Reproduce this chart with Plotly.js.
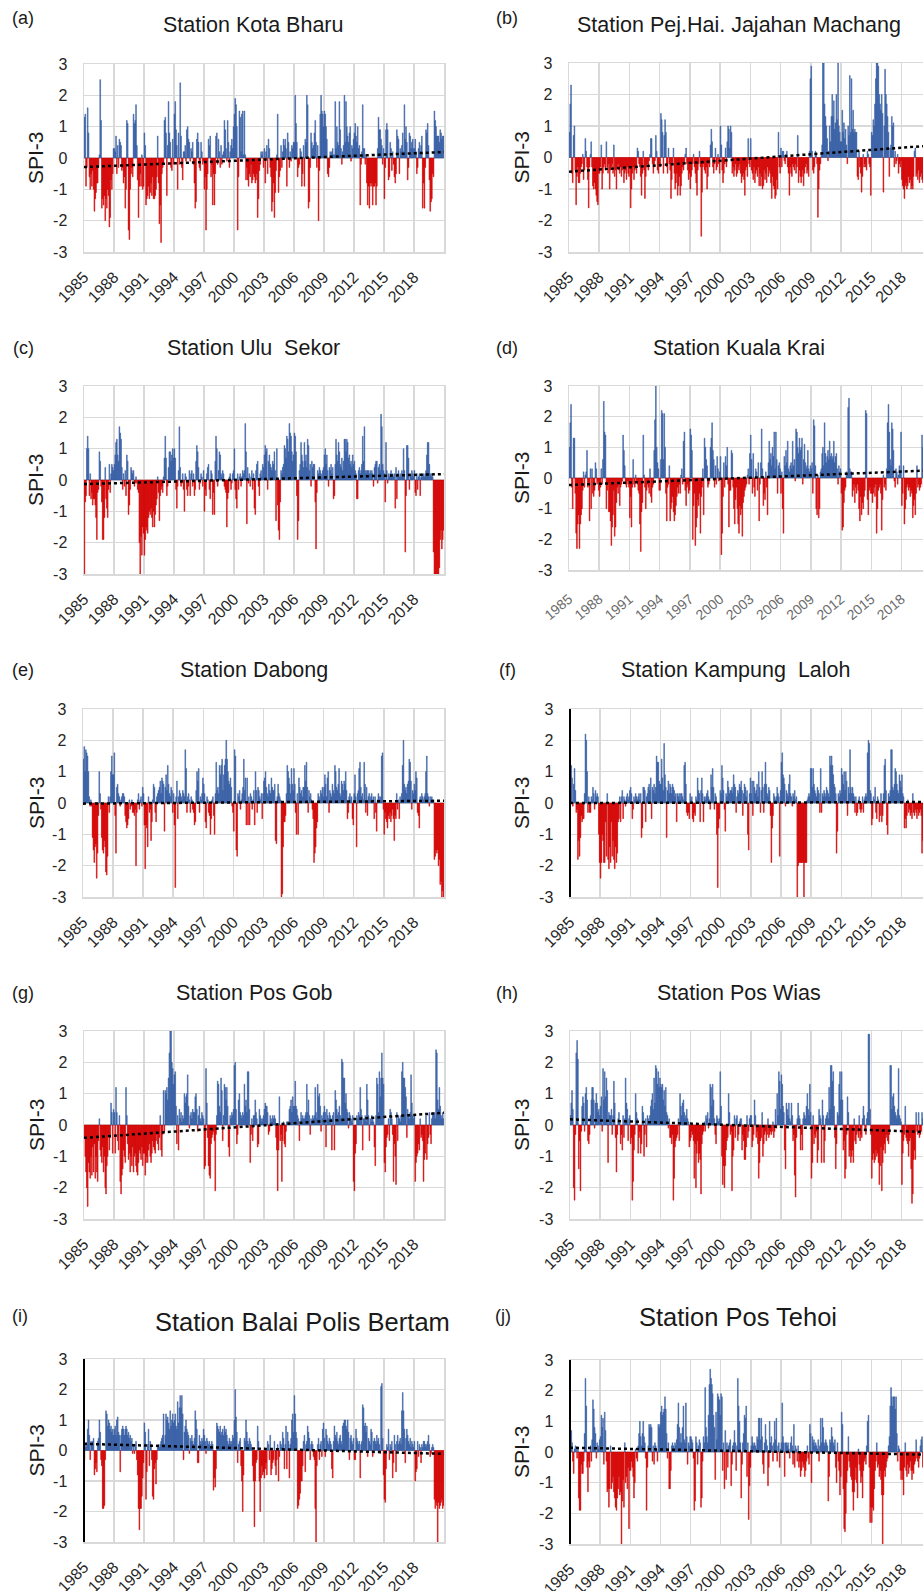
<!DOCTYPE html>
<html><head><meta charset="utf-8">
<script src="https://cdn.plot.ly/plotly-3.0.1.min.js"></script>
<style>html,body{margin:0;padding:0;background:#fff;}#chart{width:923px;height:1591px;}</style>
</head><body><div id="chart"></div>
<script>
// ---------------- DATA (monthly SPI-3, Jan 1985 - Dec 2020, one row per year) ----------------
const startYear = 1985;
const endYear = 2020;
const tickYears = [1985, 1988, 1991, 1994, 1997, 2000, 2003, 2006, 2009, 2012, 2015, 2018];
const yTickValues = [-3, -2, -1, 0, 1, 2, 3];
const yTickLabels = ['-3', '-2', '-1', '0', '1', '2', '3'];
const panelLetters = ['(a)', '(b)', '(c)', '(d)', '(e)', '(f)', '(g)', '(h)', '(i)', '(j)'];
const stationNames = ['Station Kota Bharu', 'Station Pej.Hai. Jajahan Machang', 'Station Ulu\u00a0 Sekor', 'Station Kuala Krai',
  'Station Dabong', 'Station Kampung\u00a0 Laloh', 'Station Pos Gob', 'Station Pos Wias', 'Station Balai Polis Bertam', 'Station Pos Tehoi'];

const spiKotaBharu = [
1.3,1.4,-0.9,-0.3,1.6,0.8,-0.6,-1.0,-0.5,-0.9,-0.4,-1.0,
-1.7,-1.3,-1.1,-0.8,-0.8,-0.3,0.1,2.5,1.2,-1.6,-1.3,-1.5,
-1.2,-2.0,-1.3,-1.6,-1.0,-1.2,-2.2,-1.9,-0.7,-1.0,-0.5,0.3,
0.3,0.2,0.7,-0.5,0.4,-0.3,0.6,0.5,0.4,-0.4,-0.3,-0.8,
-0.6,-1.6,-1.0,1.2,1.1,-2.3,-2.6,-1.0,-0.5,-0.3,-0.6,1.4,
1.1,1.2,1.7,0.4,-0.7,-1.9,-0.9,-0.5,-0.9,0.1,-1.0,-0.9,
0.8,0.4,-1.5,-1.3,-1.2,-0.9,-1.3,-1.1,-0.8,-1.2,-0.6,-1.3,
-1.3,-1.2,-1.0,-0.6,0.7,-0.8,-2.1,-1.5,-2.7,-0.5,-0.3,-0.2,
1.2,1.3,0.8,-1.2,0.4,1.8,0.8,0.5,-0.3,-0.4,0.6,-0.2,
1.4,1.8,0.9,0.4,-1.0,0.8,-0.2,2.4,0.7,-0.3,-0.7,0.2,
0.2,0.4,-0.1,0.9,1.0,0.6,0.5,-0.1,0.3,0.2,0.5,-0.2,
-0.8,-1.6,-1.4,0.6,0.8,0.5,-0.3,-0.4,0.5,0.2,-0.2,-0.1,
-1.0,-0.6,-2.3,-1.0,-0.5,0.6,0.4,0.7,-0.6,-0.2,-1.5,-0.5,
-1.5,-0.5,0.7,0.8,-0.2,0.6,0.2,-0.3,0.4,-0.2,0.1,0.2,
1.2,0.9,0.3,-0.1,1.2,0.5,-0.3,0.2,0.4,0.6,0.3,1.0,
1.4,1.9,1.7,1.0,-2.3,-0.6,1.5,1.3,0.2,1.4,1.5,0.1,
1.5,0.1,-0.7,-0.3,-0.7,-0.9,-0.5,-0.6,-0.2,-0.8,-0.7,-0.5,
-0.6,-0.8,-0.7,-0.5,-1.9,-1.3,-0.4,-0.2,0.2,0.1,0.2,-0.3,
0.3,-0.8,0.2,0.4,-0.5,0.6,0.3,-0.3,-0.6,-1.7,-1.4,-0.8,
-1.9,-1.1,-0.4,0.1,1.4,-1.1,-0.6,-0.4,0.4,-0.3,0.2,0.6,
0.4,0.6,0.3,-0.9,0.8,0.5,-0.3,0.2,-0.1,0.4,0.3,0.5,
0.5,2.0,1.1,0.5,-0.6,-0.3,-0.2,0.3,0.2,-0.9,-0.5,0.4,
-0.9,0.6,0.5,2.0,1.7,-1.6,-1.4,-0.3,0.8,0.5,0.3,0.4,
0.8,1.2,0.5,-0.3,0.4,-2.0,-0.4,1.4,2.0,1.5,1.4,1.0,
1.5,1.4,1.0,0.6,-0.5,-0.6,-0.3,0.2,0.1,0.2,0.3,0.1,
0.1,1.8,0.3,1.0,0.5,0.4,1.8,0.9,0.3,-0.2,0.2,0.4,
2.0,0.5,1.8,1.0,0.7,0.5,0.8,1.0,-0.1,0.4,0.3,0.6,
0.8,1.1,0.7,0.5,1.0,0.3,0.4,-1.5,-0.2,0.2,1.7,0.3,
0.3,-0.2,0.1,-0.8,-1.5,-0.9,-1.6,-0.8,-0.9,-0.8,-1.5,-0.9,
-0.9,-0.8,-1.5,-0.9,0.3,1.3,0.9,0.9,0.6,0.4,-0.2,0.3,
-1.3,-0.3,0.9,1.1,0.9,-0.7,-0.6,0.5,0.3,-0.4,0.2,-0.2,
-0.6,-0.8,-0.5,0.9,0.7,0.6,-0.5,0.3,0.2,0.4,0.8,0.2,
1.7,0.6,1.0,0.5,-0.7,-0.3,0.8,0.7,0.3,0.5,0.6,0.3,
0.3,0.6,0.2,-0.5,-0.3,0.3,0.5,0.2,0.4,0.7,-1.6,-0.8,
-1.6,-0.3,0.9,0.8,1.1,0.4,-0.7,-1.7,-1.4,-1.3,-0.5,-0.6,
1.5,1.2,1.0,0.7,0.7,0.7,0.5,0.9,0.8,0.6,0.7,0.7];

const spiMachang = [
0.8,1.7,2.3,-0.5,-0.8,0.7,1.0,-0.4,-1.5,-0.6,-0.3,-0.8,
-0.8,-0.5,-0.3,-0.2,0.1,-0.7,-0.4,0.6,0.2,-0.3,-0.7,-1.6,
-0.3,0.1,0.5,-0.3,-0.9,-1.0,-0.8,-1.0,-1.2,-1.4,-1.5,-0.5,
-0.5,-0.3,0.4,-1.0,-0.5,-0.3,-0.2,-0.4,0.5,-0.3,-0.5,-0.2,
-1.0,-0.4,-0.3,-0.2,-0.5,0.4,-0.6,-0.4,-1.0,-0.3,-0.2,-0.4,
-0.5,-0.3,-0.6,-0.4,-0.3,-0.8,-0.5,-0.4,-0.7,-0.3,-0.5,-0.6,
-0.3,-1.6,-1.0,-0.5,-0.3,-0.7,-0.4,-0.3,-0.5,0.3,0.2,-0.2,
-0.3,-0.6,-1.2,-0.5,0.2,-0.4,-1.3,-0.6,-0.3,-0.2,-0.4,-0.1,
0.1,0.6,0.6,-0.2,-0.5,-0.3,-0.1,0.7,0.2,-0.4,-0.5,-0.2,
-0.3,1.4,1.2,0.8,-0.5,0.7,1.2,0.8,-0.3,-0.5,0.3,-0.2,
-0.4,-1.3,-0.7,-0.2,0.3,-0.5,-1.0,-0.8,-0.5,-1.2,-0.9,-0.6,
-1.2,-0.9,-0.5,-0.3,-0.4,-0.2,0.1,0.3,-0.2,-0.4,-0.7,-0.5,
-1.0,-0.6,-0.4,-0.2,0.1,-0.3,-0.5,-0.8,-1.2,-0.4,-0.2,0.2,
-0.3,-2.5,-1.1,-0.3,-0.2,-0.4,-0.5,-0.3,-1.0,-0.6,-0.2,-0.3,
0.4,0.9,0.5,-0.3,-0.5,-0.2,0.3,-0.4,-0.3,0.1,-0.2,-0.5,
1.0,0.4,-0.4,-0.8,-0.5,-0.2,0.3,-0.3,0.5,1.0,0.9,0.3,
1.0,0.8,-0.5,-0.3,-0.6,-0.4,-0.2,-0.6,-0.5,-0.3,-0.4,-0.2,
-0.5,-0.8,-0.6,-0.5,-0.7,-1.2,-0.4,-0.3,-0.6,0.6,-0.2,-0.3,
0.6,-0.4,-0.5,-0.7,-0.3,-0.8,-0.5,-0.4,-0.6,-0.3,-0.9,-0.5,
-0.9,-0.6,-1.0,-0.9,-0.4,-0.7,-0.5,-0.8,-0.3,-0.6,-0.4,-0.5,
-0.8,-1.3,-0.6,-0.9,-1.0,-1.3,-1.2,-0.7,-1.0,0.8,-0.3,-0.5,
0.3,-0.3,0.2,0.2,-0.1,-0.2,0.1,0.2,-0.3,-0.5,-1.2,-0.3,
-0.5,-0.6,-0.2,-0.3,-0.4,-0.2,-0.5,-0.3,0.7,-0.8,-0.4,-0.6,
-0.8,-0.6,-0.4,-0.9,-0.5,-0.3,-0.2,-0.5,-0.4,-0.6,0.2,2.5,
2.9,0.2,-0.4,-0.5,-0.3,0.2,0.1,-0.2,-1.9,-1.0,-0.4,-0.2,
0.1,0.4,3.0,3.0,1.7,1.3,1.0,0.6,-0.1,0.2,1.0,0.5,
1.3,2.0,1.3,1.8,0.9,1.1,2.0,1.2,3.0,1.0,0.8,0.5,
0.5,1.5,0.8,1.1,0.6,0.9,0.4,-0.2,1.0,0.7,2.6,0.8,
2.5,0.9,1.5,0.8,0.9,0.8,0.8,-0.6,-0.7,0.2,-0.3,-0.5,
-1.1,-0.6,0.1,-0.3,-0.2,-0.3,-0.4,0.2,0.1,-0.2,-0.3,-1.2,
0.8,0.7,1.2,1.0,1.7,2.5,3.0,3.0,2.9,2.0,1.7,1.5,
2.0,1.4,-1.1,1.0,2.8,2.0,1.7,1.3,0.8,-0.6,0.3,0.4,
1.3,1.0,1.1,-0.3,0.2,-0.2,-0.1,0.1,-0.5,-0.2,-0.3,-0.1,
-0.7,-0.9,-1.0,-1.3,-0.9,-0.8,-1.0,-0.9,-0.6,-0.8,-0.7,-1.0,
-0.9,-1.0,-0.6,0.2,0.3,-0.6,-0.5,-0.7,-0.4,-0.8,-0.6,-0.5,
-0.7,-0.8,-0.6,-0.5,-0.4,-0.7,-0.6,-0.5,-0.3,-0.4,-0.6,-0.5];

const spiUluSekor = [
-3.0,-0.7,-0.5,1.0,1.4,1.0,-0.5,0.2,-0.6,-0.4,-0.8,-0.6,
-0.6,-0.8,-1.2,-1.9,-0.4,-0.3,0.9,0.6,-0.2,-0.7,-1.9,-1.9,
-1.2,0.4,-0.6,-0.9,-1.2,-0.3,0.5,-0.4,0.2,0.5,0.4,0.3,
0.5,0.8,1.2,1.3,0.8,0.6,1.7,1.5,1.3,0.4,-0.3,0.2,
-0.2,0.3,-0.5,0.8,0.6,-1.1,-0.8,-0.3,0.4,0.3,0.2,0.3,
-0.2,-0.1,0.1,-0.1,-0.3,-0.4,-2.0,-3.0,-1.8,-2.4,-1.5,-1.7,
-2.4,-1.9,-1.5,-1.6,-1.7,-1.2,-1.0,-1.1,-0.9,-1.2,-1.5,-1.0,
-1.5,-1.1,-0.8,-0.6,0.1,-0.4,-1.3,-0.5,-0.3,-0.2,-0.4,0.1,
0.7,1.4,0.7,-0.5,-0.2,0.4,0.9,0.9,0.6,0.8,1.0,0.7,
1.0,0.7,-0.3,-0.9,-0.2,0.3,1.7,0.4,-0.2,-0.1,0.2,-0.3,
-1.0,0.2,0.1,-0.3,-0.5,-0.2,0.3,-0.5,0.2,0.3,-0.2,0.2,
-0.5,-0.3,0.6,1.1,0.9,0.4,-0.3,-0.1,0.2,0.1,-0.2,0.3,
-1.0,-0.3,-0.5,0.2,0.4,0.5,-0.3,-0.6,0.3,0.2,-1.1,-0.4,
-1.1,0.6,1.4,1.0,-0.2,0.3,0.9,0.8,0.2,0.1,0.3,0.2,
-0.2,-0.3,-0.4,-1.5,-0.6,-0.4,0.1,0.2,-0.3,-0.1,0.2,0.3,
1.0,-0.3,-0.6,-0.9,0.2,-0.3,0.1,0.2,-0.2,0.1,0.3,0.2,
0.3,1.8,0.9,-1.4,0.4,-0.1,0.2,-0.2,0.1,0.3,-0.3,0.2,
-0.9,-1.1,0.3,0.5,0.6,-0.2,-0.5,0.2,0.3,0.1,0.5,0.4,
0.8,1.1,0.9,1.0,-0.3,0.6,0.8,0.5,0.4,0.3,0.6,0.5,
0.9,0.3,-1.3,1.0,-0.8,-1.6,-1.9,-0.7,0.3,0.2,0.4,0.5,
1.1,1.0,0.7,1.4,1.3,0.9,1.8,1.5,1.4,0.9,0.6,0.8,
1.5,1.4,0.9,-0.5,-1.9,-1.3,0.3,0.5,1.2,0.8,0.6,0.4,
1.2,0.6,0.8,0.4,1.3,1.1,0.3,0.5,-0.2,0.6,0.4,0.5,
0.5,-0.7,-2.2,-0.4,0.3,0.2,0.4,0.3,0.2,0.1,0.3,0.4,
0.8,1.0,0.5,0.8,0.3,-0.2,0.4,0.3,0.5,0.2,0.4,-0.6,
-0.5,0.5,1.3,0.8,0.6,1.2,0.9,0.5,0.4,0.7,0.3,0.6,
1.3,1.3,0.9,1.3,1.2,0.7,0.8,0.5,0.6,0.4,0.8,0.5,
0.6,0.3,0.2,-0.6,-0.6,0.3,0.4,0.2,0.3,0.5,1.4,0.6,
1.7,0.3,0.2,0.3,0.3,0.3,0.2,0.3,0.2,0.3,0.2,-0.2,
0.4,0.5,0.6,0.6,-0.1,0.4,0.5,0.3,2.1,1.7,0.5,0.3,
0.2,-0.7,1.2,0.3,-0.1,0.2,0.1,0.2,0.3,0.1,0.2,0.1,
0.2,-0.9,0.4,-0.6,0.2,0.3,0.1,0.2,0.1,0.3,0.2,1.0,
0.3,-2.3,-0.5,1.1,1.1,0.7,-0.3,0.2,0.1,0.3,0.2,0.1,
0.3,-0.4,-0.5,0.2,-0.3,0.1,0.2,-0.5,0.1,0.2,0.1,0.2,
0.1,0.2,0.3,0.8,1.2,1.2,0.5,0.2,0.1,0.2,0.1,-2.3,
-3.0,-3.0,-3.0,-3.0,-3.0,-3.0,-2.8,-1.9,-1.6,-2.2,-1.9,-1.6];

const spiKualaKrai = [
1.0,1.8,2.4,-0.3,-1.0,1.3,1.3,-0.5,-1.8,-2.3,-1.5,-1.2,
-2.3,-1.5,-1.2,-1.0,-0.4,0.2,-0.3,0.1,0.2,0.9,-0.3,-0.2,
-1.4,0.3,-1.0,0.3,-0.5,-0.6,-0.4,0.5,0.3,-0.2,-0.1,-0.4,
-0.6,-0.3,0.3,-0.2,0.6,2.5,1.5,1.4,-1.0,-0.4,-0.2,-1.1,
-1.1,-1.4,-2.2,-1.6,-1.2,-0.4,-1.9,-1.6,-0.8,-0.3,-0.5,-0.2,
-0.9,-0.3,-0.2,-0.1,1.4,0.9,0.4,-0.2,-0.3,-0.1,-0.2,-0.3,
-1.3,-0.6,-1.6,-0.3,0.6,-0.2,-0.3,0.1,-0.1,-0.2,-0.4,-0.5,
-1.5,-2.4,-1.1,-0.8,1.4,0.1,-0.3,-1.0,-0.4,-0.2,-0.3,-0.5,
0.3,-0.6,-0.8,-0.3,-0.2,0.9,1.9,3.0,1.0,0.5,0.3,-0.4,
-0.4,0.6,2.2,2.1,0.6,2.1,1.0,-0.5,-1.4,-0.3,-0.2,0.4,
-1.4,-1.0,-0.8,-0.6,-1.1,-1.4,-1.2,-0.9,-0.6,-0.3,-0.5,-0.2,
-0.5,0.1,0.3,-0.2,1.2,1.5,-0.4,-0.9,-0.3,-0.2,-0.5,-0.4,
1.6,1.4,0.9,-2.0,-0.9,-0.5,-2.2,-1.6,-1.3,-0.7,-0.9,-0.5,
-1.8,-0.6,-0.3,0.3,-1.2,1.3,1.0,0.6,0.4,-0.3,-0.2,-0.1,
1.0,1.3,1.8,0.9,0.6,-0.3,0.4,-0.2,0.7,0.3,-0.1,0.2,
0.7,-2.5,-1.8,-0.6,0.5,-0.3,0.7,0.4,1.0,-0.2,-1.6,-0.4,
-0.4,0.9,0.8,-0.3,-1.0,-1.5,-0.7,-0.3,-1.0,-1.5,-1.8,-0.9,
-1.2,-1.0,-1.9,-0.8,-0.6,-0.4,-0.3,-0.2,0.1,0.3,-0.2,0.8,
1.4,0.6,-0.5,0.8,-0.3,-0.6,0.3,0.2,-0.4,0.5,-1.4,-0.2,
0.5,1.6,0.3,-0.9,-0.5,-0.7,0.2,-0.3,-1.2,0.5,1.2,0.6,
0.8,0.4,1.0,0.7,1.5,0.3,1.5,0.6,-0.5,0.4,0.5,0.3,
-0.5,0.2,-1.0,-1.8,0.7,0.4,0.9,0.5,1.2,0.3,0.2,0.4,
0.5,0.3,1.2,0.4,0.6,-0.1,1.6,1.5,1.0,0.8,1.3,0.9,
1.0,1.3,-0.2,0.6,1.1,0.5,0.3,0.4,0.9,0.3,0.2,0.4,
0.3,0.5,-0.5,1.9,1.7,0.4,-1.0,-1.2,0.1,-1.3,-1.0,0.2,
0.3,0.8,1.0,0.4,1.8,0.8,0.5,0.7,0.9,0.6,1.2,0.7,
0.8,0.6,0.7,1.2,0.5,0.7,0.8,0.3,-0.2,0.4,0.2,0.3,
-0.5,-1.7,-1.6,-0.8,-0.4,-0.3,0.2,0.1,2.3,2.6,0.3,0.2,
0.2,-0.6,-0.4,-0.2,-0.8,-0.3,-0.5,-0.2,-0.4,-1.0,-1.4,-0.6,
-1.2,-0.8,-1.0,-0.6,-0.4,2.2,2.1,-0.7,-1.2,-0.4,-0.3,-0.5,
-0.5,-0.8,-0.5,-0.3,-0.6,-0.2,-1.8,-1.0,-0.4,-0.3,-0.2,-0.5,
-1.7,-0.7,0.1,-0.3,-0.2,-0.4,0.3,1.8,2.4,1.5,0.6,0.4,
1.8,1.6,0.9,-0.1,-0.3,0.3,0.2,-0.2,0.1,0.4,0.2,1.5,
-0.9,-0.5,0.4,-1.5,-1.0,-0.7,-0.3,-0.2,-0.4,-0.3,-0.6,-0.4,
-0.5,-1.3,-0.9,-0.7,-1.2,-0.5,0.4,-0.3,-0.2,-0.4,-0.3,-0.2,
1.4,1.0,-0.3,0.5,0.3,-0.2,0.4,0.3,-0.2,0.2,0.1,0.3];

const spiDabong = [
1.4,1.8,1.0,1.7,1.6,1.5,1.0,0.2,-0.1,0.1,-0.1,-1.1,
-1.5,-1.9,-1.4,-1.3,-2.4,-1.6,-0.4,1.0,0.3,-0.2,-1.1,-1.5,
-1.6,-1.2,-1.4,-2.2,-2.3,-1.7,0.2,-0.3,0.2,1.0,1.5,0.9,
0.9,1.6,-0.4,-1.6,0.5,0.6,0.3,0.2,-0.1,0.1,0.2,0.3,
0.3,0.2,-0.4,-0.6,-0.8,-0.7,-0.5,0.1,-0.2,-0.1,0.1,-0.3,
-0.3,-0.4,-0.2,-2.0,-0.3,0.1,0.3,-0.2,0.1,0.2,-0.1,0.5,
0.3,-0.7,-2.1,-0.7,-0.8,-1.4,0.2,-0.3,-0.2,-1.2,-0.6,0.1,
0.6,0.5,-0.3,-0.6,0.2,0.3,0.4,0.5,0.7,0.3,0.8,0.7,
0.6,-0.9,0.5,0.9,0.4,1.2,0.6,0.3,0.2,0.5,0.4,-0.3,
0.3,-0.7,-2.7,0.2,0.7,-0.5,0.2,0.4,0.3,0.2,0.1,0.4,
0.3,0.2,1.7,1.1,-0.3,0.2,0.3,0.1,-0.3,0.2,0.1,-0.2,
-0.3,-0.7,-0.6,0.4,1.0,0.7,1.1,-0.3,0.2,0.1,0.3,0.8,
0.6,0.3,-0.6,-0.8,0.2,0.1,-0.3,-0.4,-1.0,-0.5,0.1,0.2,
-0.4,-1.0,0.3,1.3,0.4,0.5,0.3,1.2,0.9,1.2,1.4,0.4,
0.9,1.2,1.4,2.0,1.4,1.0,0.7,0.6,0.8,0.5,-0.1,-0.3,
-0.9,1.7,1.5,-1.5,-1.7,0.3,0.2,0.4,-0.2,0.1,0.3,0.5,
1.4,0.4,0.8,-0.7,0.8,-0.7,0.2,-0.7,0.3,0.2,-0.2,0.1,
0.4,-0.7,1.0,0.4,-0.3,0.5,0.4,0.2,0.1,0.3,-0.5,0.3,
0.7,0.8,1.0,0.5,0.3,0.2,0.6,0.4,0.3,0.8,0.5,0.4,
0.4,0.6,-1.2,-1.3,0.2,0.6,0.3,0.2,0.1,-3.0,-2.9,-1.4,
-0.6,-0.6,-0.4,0.3,1.2,1.0,0.8,0.6,0.3,1.1,0.6,0.4,
1.1,0.6,-0.3,-1.0,0.3,-1.0,0.8,0.5,0.3,0.4,0.2,0.5,
0.5,1.2,0.7,1.3,0.5,-0.3,0.4,0.2,0.3,0.1,-0.2,-0.5,
-1.9,-1.6,-1.4,-0.8,-0.6,0.3,0.2,0.1,0.4,0.3,0.5,0.2,
0.5,0.9,0.6,0.2,0.8,1.0,-0.3,0.4,0.3,0.2,0.6,0.4,
0.3,1.2,1.0,0.5,0.4,0.6,1.1,0.3,0.2,0.7,0.6,0.4,
0.7,0.6,1.0,0.4,-0.5,-0.3,0.2,0.3,0.1,0.2,-0.5,-0.7,
0.3,0.9,0.2,-1.4,0.3,0.4,1.1,1.3,0.5,0.2,0.3,0.1,
1.3,0.6,-0.3,0.5,-0.4,0.2,0.3,0.1,0.2,0.3,0.1,0.2,
-0.5,0.2,-0.3,-0.9,0.1,0.3,0.2,0.1,0.2,1.5,1.6,-0.2,
-1.0,-0.3,-0.5,-0.6,-0.8,-0.4,-0.5,-0.3,-0.6,-0.4,-0.2,-0.5,
-1.2,-0.4,-0.5,0.3,-0.2,0.1,-0.5,0.2,0.1,0.3,1.2,2.0,
0.6,0.4,0.5,0.3,0.6,0.7,1.4,1.3,0.7,-0.2,0.4,0.3,
0.6,0.4,1.0,0.8,-0.3,-0.4,-0.8,0.2,0.1,0.3,0.2,0.1,
0.2,0.3,1.0,1.5,0.3,0.2,-0.1,0.2,0.1,0.2,0.1,0.1,
-1.8,-1.7,-1.5,-1.6,-1.5,-2.0,-1.8,-2.6,-2.5,-3.0,-2.8,-3.0];

const spiKampungLaloh = [
0.9,1.2,0.8,-0.1,0.6,1.1,0.4,-0.3,-0.2,-1.8,-1.2,-1.7,
-1.1,-0.4,-0.6,-0.5,-0.5,0.3,2.2,2.0,1.0,-0.3,0.2,-0.3,
-0.3,0.2,0.1,0.5,0.3,-0.2,0.4,0.2,0.3,0.2,-1.0,-1.9,
-2.4,-1.9,-1.0,-1.2,-1.9,-1.9,-0.6,-1.7,0.3,-1.8,-2.1,-1.4,
-1.9,-0.6,-1.7,-1.2,-1.8,-2.1,-1.4,-1.9,-1.6,-0.6,-0.5,0.2,
-0.6,0.2,0.4,-0.5,0.2,0.1,-0.1,0.2,0.3,0.1,0.2,0.4,
0.5,0.3,-0.5,-0.2,0.2,0.1,0.3,0.2,0.1,0.2,0.3,0.1,
0.3,-1.1,-0.8,0.5,0.5,0.4,-0.6,0.2,0.3,0.5,0.6,0.4,
0.8,-0.5,0.5,0.4,0.6,0.3,0.5,1.5,1.3,1.3,0.7,0.6,
0.6,1.4,0.8,0.4,1.9,0.9,0.5,-1.1,0.4,0.7,0.3,0.6,
0.5,0.3,0.6,0.5,0.4,0.2,0.3,-0.6,0.3,0.2,0.3,0.1,
0.3,0.3,0.2,0.1,1.2,1.3,0.6,-0.3,-0.4,-0.3,-0.5,0.3,
0.1,0.2,-0.5,-0.6,-0.3,-0.4,0.2,0.1,0.8,0.4,0.3,-0.6,
0.4,0.8,0.3,-0.6,0.2,0.1,0.2,0.3,0.4,0.2,0.1,-0.2,
0.9,0.5,1.1,0.5,-0.2,0.3,0.2,-1.0,-2.7,-0.8,-0.5,0.4,
0.3,1.2,0.8,0.4,-0.2,-0.9,0.3,0.2,0.7,0.5,0.3,0.4,
0.4,0.5,0.3,0.9,0.6,0.5,-0.3,0.2,0.4,0.3,0.6,0.5,
0.7,0.4,-0.4,0.3,0.6,0.5,0.2,0.4,-1.0,-1.5,0.3,0.8,
0.3,0.7,-0.4,0.7,0.5,0.3,0.4,0.6,0.2,1.0,0.5,-0.3,
0.4,1.0,0.5,-0.3,0.6,1.3,0.6,0.3,0.2,0.5,0.4,-0.4,
-1.9,-0.8,-0.4,0.3,0.2,0.1,0.2,0.5,0.3,0.2,-1.7,0.4,
1.3,1.6,0.9,0.8,0.6,-0.1,0.4,0.3,0.2,0.6,0.9,0.3,
0.2,-0.1,0.3,0.2,0.4,0.1,0.2,-3.0,-2.0,-1.9,-1.9,-1.9,
-1.9,-1.9,-1.9,-3.1,-1.9,-1.9,-1.9,0.1,0.2,0.3,0.2,1.1,
1.1,0.5,1.1,0.6,0.4,0.3,0.2,0.5,0.4,0.3,-0.3,1.1,
-0.3,0.3,0.2,0.4,0.3,0.2,0.5,0.4,0.3,0.2,1.5,1.2,
1.5,1.2,0.9,0.6,0.5,0.3,-1.6,-0.9,0.3,0.2,0.4,0.3,
1.1,0.9,0.6,1.0,0.4,1.0,0.7,-0.4,0.5,0.3,1.7,0.5,
0.3,0.5,0.3,0.2,-0.3,0.2,-0.4,-0.3,0.1,0.2,-0.2,-0.3,
-0.2,0.2,-0.3,0.1,0.2,0.3,0.2,1.6,2.0,1.9,0.4,0.3,
-0.7,-0.5,0.2,0.1,0.5,-0.3,-0.5,0.2,0.1,-0.6,-0.4,0.3,
-0.6,-0.4,0.3,1.2,1.4,0.4,-0.7,-1.0,0.3,0.2,0.4,1.7,
1.7,0.5,0.4,0.6,1.1,1.0,0.6,0.4,0.3,0.9,0.7,0.5,
0.9,0.3,0.2,-0.8,-0.5,-0.8,-0.4,0.1,-0.3,-0.2,-0.4,-0.3,
-0.5,0.3,-0.3,-0.4,-0.2,-0.3,-0.5,-0.2,-0.4,-0.3,-0.2,-0.4,
-1.6,-1.2,-0.8,-0.5,-0.3,-0.4,-0.6,-0.5,-0.3,-0.4,-0.2,-0.3];

const spiPosGob = [
-0.4,-1.0,-1.5,-2.0,-2.6,-1.2,-1.5,-1.7,-1.0,-1.6,-0.7,-1.5,
-0.6,-1.7,-1.0,-1.5,-1.8,-0.5,0.2,-0.8,-1.0,-1.2,-0.7,-1.5,
-1.0,-2.0,-2.2,-1.3,-1.0,-0.3,-0.8,-0.4,0.7,0.4,-0.9,0.5,
0.4,-0.9,1.2,0.4,-0.5,-0.8,0.3,-1.8,-2.2,-1.6,-1.4,-0.8,
-1.0,-1.2,1.2,0.3,-0.6,-1.1,-0.9,-1.5,-1.0,-1.3,-0.7,-1.5,
-1.0,-0.9,-1.3,-1.5,-1.6,-1.2,-0.8,-0.9,-1.1,-0.7,-1.3,-0.9,
-0.9,-1.6,-1.2,-1.0,-1.2,-0.8,-0.6,-1.0,-1.2,-0.9,-0.5,-0.7,
-0.8,-0.9,-0.5,-0.3,-0.6,-0.8,-0.4,0.3,-0.8,-1.0,-0.3,1.1,
-0.2,1.1,1.0,1.2,0.8,1.5,2.3,3.0,3.0,2.0,1.8,1.3,
1.6,1.7,0.6,-0.6,0.3,-0.8,0.5,0.2,0.4,0.1,0.3,0.2,
1.0,0.7,0.9,1.0,1.6,0.6,-0.1,0.3,0.4,0.2,0.5,0.4,
0.4,0.9,1.0,0.5,-0.2,0.3,0.6,0.2,0.1,0.4,0.3,0.2,
-1.4,-1.3,1.8,0.7,-0.4,-1.3,-1.6,-1.7,-0.6,-0.4,-0.3,-0.2,
-0.5,-2.1,-0.3,0.3,1.4,1.3,0.6,0.4,1.5,1.1,-0.5,0.3,
1.3,1.2,0.8,1.2,0.6,-0.7,-1.0,0.3,0.2,0.4,0.3,0.5,
1.9,2.0,0.5,-0.6,-0.3,0.8,1.0,0.4,0.3,0.2,0.4,0.3,
1.3,0.6,0.8,0.4,1.7,1.7,0.5,-1.2,-0.3,0.2,-0.5,0.3,
0.3,0.8,0.4,0.2,-0.7,-0.6,0.5,0.3,0.2,0.1,0.2,0.3,
0.5,0.7,0.6,0.6,0.4,-0.3,-0.2,0.3,0.2,0.1,0.3,0.2,
0.3,0.2,-0.4,-0.8,-2.1,-0.8,0.9,-0.5,-0.3,-1.8,-0.5,0.1,
-0.6,-0.7,-0.2,0.1,0.1,0.1,0.5,0.6,0.8,0.4,0.9,0.6,
0.6,1.4,0.6,0.5,0.3,0.2,-0.5,0.1,0.4,0.2,0.3,0.2,
0.2,0.3,0.4,1.3,0.4,0.8,0.3,-0.3,0.2,0.1,0.3,0.2,
0.3,1.2,0.4,0.2,1.3,0.9,1.0,0.6,-0.2,0.3,0.2,0.4,
0.6,0.4,-0.7,0.5,0.3,0.2,0.4,0.3,0.2,-0.8,0.3,0.4,
-0.8,1.1,0.8,0.5,0.3,0.4,0.6,0.3,0.2,2.1,2.0,1.5,
1.5,0.7,1.0,0.5,0.4,-0.1,0.4,0.3,0.2,0.1,0.3,-1.8,
-2.1,-0.9,-0.6,0.3,0.2,0.4,0.3,1.2,0.5,0.3,-0.8,0.2,
0.2,0.3,0.1,1.3,0.8,0.3,-0.5,0.2,0.1,0.3,0.2,0.1,
-0.7,-1.3,0.3,1.5,1.3,0.4,1.7,0.9,1.5,2.3,1.5,1.3,
-1.2,-1.5,-0.7,-0.4,-0.3,0.2,-0.5,0.5,0.4,0.2,-0.3,-1.8,
-0.6,-1.0,-1.9,0.4,-0.5,0.3,0.2,0.1,0.3,1.7,2.0,1.5,
1.5,1.2,0.9,-0.4,0.5,0.3,0.2,0.4,1.6,0.7,0.3,0.2,
0.3,-1.8,-1.2,-1.0,-0.9,-0.6,-0.8,0.2,-0.4,-0.3,-0.5,-1.8,
-1.1,-0.9,0.3,-1.1,-0.6,-0.4,0.4,-0.3,-0.6,0.2,0.4,0.3,
0.4,0.2,2.4,2.3,0.8,0.5,1.2,0.6,0.3,0.2,0.4,0.2];

const spiPosWias = [
0.3,0.7,1.1,0.5,-2.0,-2.4,-0.3,2.3,2.7,2.1,-1.4,-0.5,
-2.1,-0.2,0.6,0.9,0.7,-0.2,1.0,1.2,0.8,-0.5,-0.6,-0.3,
0.3,0.8,1.2,1.2,0.8,-0.1,0.7,1.0,0.7,0.4,0.5,0.3,
0.6,0.9,-0.2,1.8,0.8,1.7,0.9,1.5,1.1,-1.2,0.4,0.3,
0.3,0.5,-0.3,0.3,1.4,0.7,-0.4,-1.5,-0.3,0.2,0.4,0.1,
-0.6,-0.3,-0.8,0.3,-0.4,0.2,1.5,0.7,0.5,-0.5,0.2,0.3,
-0.6,-0.4,-2.4,-1.8,-0.8,-0.3,1.0,0.4,0.2,-0.9,-0.4,-0.2,
-0.9,-0.6,0.6,0.4,-1.0,-0.3,0.2,-0.7,0.3,0.2,0.1,0.3,
0.6,0.8,1.0,0.5,1.5,0.7,1.9,1.8,1.3,1.7,1.2,1.5,
1.3,1.2,1.3,0.8,1.1,0.6,1.2,0.4,0.3,-0.1,0.2,-0.4,
-0.4,-0.6,-0.3,-2.4,-1.7,-0.7,-0.5,-0.4,-0.3,0.2,-0.5,1.0,
0.6,0.3,0.7,0.8,0.4,0.2,0.3,0.5,0.2,0.1,-0.7,-0.5,
-0.4,-0.2,-0.3,-0.5,-1.7,-0.6,-2.0,-0.9,-0.5,-1.2,-0.9,-1.1,
-2.2,-0.6,-0.3,-0.2,0.1,-0.2,0.3,0.2,0.4,-0.1,0.2,1.3,
1.2,0.6,1.3,0.8,0.2,-0.3,-0.6,0.3,0.2,0.1,0.2,1.7,
0.6,-1.0,-1.9,-1.3,-2.0,-1.3,-0.8,-0.5,-0.4,1.0,0.4,-0.3,
-0.2,-2.1,-1.0,-0.8,0.3,-0.4,0.2,0.3,-0.5,-0.3,0.1,0.2,
0.2,-0.8,-0.3,-0.5,-1.1,-1.1,-0.7,0.3,-0.4,-0.2,0.2,0.3,
0.3,-0.7,-0.5,-0.3,0.8,0.3,-0.4,-0.2,-0.6,-1.7,-1.2,-0.5,
-0.4,0.4,-1.0,-0.6,-0.3,-0.2,-0.5,-0.3,0.2,-0.4,-0.3,-0.2,
-0.3,-0.2,0.1,-0.4,-0.2,0.5,-0.1,1.0,0.3,1.7,1.4,0.5,
1.6,1.3,0.6,0.4,-0.8,-1.4,0.7,0.5,0.3,0.7,0.2,0.1,
0.7,0.3,-0.5,-0.3,-1.6,-2.3,-0.4,0.2,0.7,0.3,0.2,-0.8,
-0.3,-0.8,0.2,0.4,0.3,0.2,0.6,1.0,0.5,0.3,1.3,0.4,
-1.7,-1.2,0.3,-0.6,-0.3,-0.4,-0.2,-1.2,-0.8,0.5,0.3,0.2,
-1.2,0.8,0.3,-1.2,-0.5,0.2,0.3,0.4,0.2,1.2,0.5,1.9,
1.9,1.4,1.7,0.6,-0.4,-1.4,-0.6,0.4,0.3,1.3,1.7,0.8,
1.7,0.8,-0.8,-0.5,-1.7,-1.4,-0.3,0.9,0.4,-1.0,-0.8,-1.2,
-1.0,-0.8,-1.2,0.2,-0.5,-0.6,-0.3,-0.2,-0.4,0.3,-0.5,-0.3,
-0.4,0.2,0.6,0.3,-0.2,-0.3,0.2,0.4,2.9,2.9,0.5,-0.3,
-1.7,-1.1,-0.9,-1.2,-1.1,-0.8,-1.0,-0.9,-1.2,-1.9,-1.3,-0.7,
-2.1,-1.2,-0.8,-0.6,-0.9,-0.4,-0.3,-0.5,-0.6,-0.3,1.9,1.9,
0.5,0.9,1.0,0.6,0.4,0.3,0.2,0.5,1.8,0.3,0.2,0.1,
-1.9,-0.9,-0.5,-0.3,0.6,-0.4,-0.5,-0.6,-1.0,-0.5,-0.4,-1.4,
-2.5,-2.2,-1.1,-0.8,-1.1,0.4,-0.2,-0.3,0.4,-0.4,-0.3,-0.2,
0.4,0.2,-0.3,-0.2,-0.4,-0.3,-0.2,-0.5,-0.3,-0.4,-0.2,-0.3];

const spiBalaiPolisBertam = [
-0.3,0.2,0.1,0.2,0.7,1.0,0.5,-0.3,0.3,0.2,0.3,0.4,
-0.8,-0.6,-0.4,-0.7,0.3,0.4,1.0,0.6,-0.3,-0.5,-1.9,-1.9,
-1.8,-0.3,1.3,1.2,0.8,1.0,0.9,0.7,0.8,0.6,0.7,0.5,
0.7,0.8,0.5,1.0,1.1,0.6,0.5,-0.7,0.5,0.7,0.8,0.7,
0.5,0.7,0.8,0.7,0.5,0.6,0.4,0.5,0.3,0.4,-0.1,0.2,
-0.1,0.2,0.3,-0.3,-0.8,-1.9,-2.6,-1.9,-1.9,-1.5,-0.9,-0.4,
0.9,0.6,-1.6,-0.7,0.2,0.7,-0.5,0.3,0.2,-0.3,-1.5,-1.6,
-0.6,-0.4,-1.1,-0.3,0.1,0.2,0.1,0.2,0.3,0.4,0.5,1.2,
0.2,0.5,1.2,1.0,1.1,0.9,0.7,1.3,0.8,1.0,1.2,0.9,
1.0,1.2,0.8,0.7,1.6,0.9,1.4,1.8,1.4,1.8,1.2,-0.3,
0.6,0.8,1.0,0.7,0.6,0.5,-0.1,0.4,0.3,0.5,0.3,0.2,
0.4,1.3,1.0,0.7,-0.4,-0.4,0.5,0.3,0.2,0.4,0.3,0.7,
0.5,0.3,-0.1,0.4,0.3,0.2,0.3,0.1,0.2,0.3,0.2,-1.3,
-0.9,-1.2,-0.6,0.9,0.8,0.7,0.6,0.8,0.5,0.6,0.7,0.5,
0.8,0.6,0.7,0.5,0.3,0.2,0.4,0.3,0.2,0.3,0.5,0.4,
1.0,2.0,1.1,0.6,-0.4,0.2,0.3,0.4,-0.5,-1.0,-2.0,-0.8,
0.4,0.3,1.0,0.6,0.3,0.2,0.4,0.3,0.2,0.1,-0.5,-1.0,
-2.5,-1.0,-0.4,-0.3,0.8,0.3,-1.0,-2.0,-0.9,-0.5,-0.8,-0.7,
-0.9,-0.6,-0.4,-0.8,0.3,0.2,-0.3,0.5,-0.8,-0.6,-0.4,-0.3,
0.3,-0.5,-0.8,-0.3,0.2,-1.0,-0.2,0.3,0.2,0.1,0.6,0.4,
-0.6,0.2,0.8,-0.6,0.6,0.3,-0.9,0.2,0.4,1.0,1.2,0.6,
1.8,1.2,0.6,0.4,-1.9,-1.8,-1.6,-1.4,-1.0,-1.0,-0.5,0.3,
0.5,-0.7,0.2,0.3,0.8,0.6,0.4,-0.3,0.2,0.3,0.2,-0.2,
-0.3,-1.9,-3.0,-0.5,0.2,0.4,-0.3,0.2,0.3,-0.2,0.7,0.9,
0.4,-0.2,0.7,0.5,0.3,0.2,0.4,0.3,0.2,-0.6,-0.9,0.3,
0.8,0.5,0.4,0.6,0.3,0.2,0.4,0.5,0.3,0.2,0.8,0.9,
1.0,1.0,0.8,0.7,1.0,0.6,-0.3,0.4,0.5,0.3,0.2,0.4,
-0.3,-0.3,0.7,0.4,0.3,0.2,0.3,-0.9,0.2,0.3,1.5,1.4,
0.8,0.9,0.6,0.8,-0.2,0.4,0.3,0.2,0.7,0.6,-0.2,0.3,
0.4,0.3,0.2,0.5,0.3,0.4,0.2,-0.1,2.1,2.2,0.4,-0.8,
-1.6,-1.7,-0.6,0.2,0.1,0.7,-0.3,0.2,0.1,0.3,-0.9,-0.4,
0.5,0.2,-0.7,0.3,0.5,0.2,0.3,0.4,0.2,1.3,1.9,1.3,
0.7,-0.4,0.4,0.7,0.5,0.3,0.2,0.4,0.1,0.3,0.2,0.1,
0.3,-1.0,-0.7,-0.6,0.3,-0.2,0.2,0.1,-0.4,0.2,0.1,0.3,
0.3,0.2,0.1,0.2,0.3,0.5,0.2,-0.2,-0.1,0.1,0.2,0.1,
-1.6,-1.9,-1.7,-1.8,-3.0,-1.7,-1.9,-1.8,-1.7,-1.6,-1.9,-1.8];

const spiPosTehoi = [
0.3,0.7,0.3,-0.3,-0.7,0.1,0.2,0.1,-0.2,0.1,-1.5,-1.9,
-1.9,-0.4,-0.7,-0.7,-0.3,0.6,2.4,1.5,-0.5,-1.3,-0.3,-0.5,
0.2,-0.3,0.4,1.7,1.4,0.8,0.6,-0.2,0.3,0.2,0.1,0.4,
0.5,1.2,0.8,1.1,-0.4,1.3,0.7,-0.3,-1.3,-1.2,-1.8,-1.2,
0.2,-1.2,-1.0,-0.8,-1.3,-1.5,-1.8,-1.9,-1.5,-1.2,-0.8,-1.4,
-1.3,-3.0,-1.6,-0.9,-1.8,0.3,-1.0,-0.8,-1.2,-0.5,-2.5,-0.6,
-0.6,-0.3,-0.5,-0.8,-1.5,-1.0,0.1,-0.2,-0.3,0.2,0.6,1.0,
0.5,0.2,0.6,1.0,0.5,0.3,-0.2,-1.9,-0.5,0.2,0.9,0.8,
0.9,0.8,-0.3,0.2,-0.4,0.3,0.2,0.1,-0.3,0.9,0.8,0.9,
1.3,1.5,1.2,1.3,1.4,1.8,1.4,0.6,-0.2,0.3,-1.2,-1.2,
-0.6,0.2,0.3,0.2,0.1,0.3,0.2,0.4,0.9,1.6,0.8,0.3,
0.6,0.3,0.8,1.5,0.4,0.3,1.6,0.5,-0.4,0.3,0.2,0.5,
0.5,0.4,0.3,-0.2,-1.9,-1.6,0.5,0.3,-0.4,0.2,0.4,0.3,
-1.8,-1.5,-0.3,0.5,0.3,2.1,0.8,0.5,0.3,1.2,2.2,2.7,
2.4,2.2,1.9,1.2,0.8,-0.9,1.3,0.4,1.9,1.8,1.7,1.2,
1.9,1.8,-0.6,0.3,-1.2,0.7,-0.9,0.3,-0.5,0.2,0.3,0.4,
-1.1,-0.4,0.2,0.3,0.7,0.3,-0.6,0.2,2.4,1.5,1.0,0.3,
-1.5,-0.4,0.3,0.6,1.2,1.1,1.5,-0.8,0.3,-2.2,-1.1,-0.5,
0.2,0.5,0.3,0.2,0.3,0.2,0.1,0.5,0.4,1.1,1.1,0.4,
1.1,0.5,-0.4,-0.7,0.3,0.9,0.4,0.2,-1.1,-0.5,1.0,0.3,
0.5,0.2,-0.3,0.3,1.0,0.4,1.1,-0.3,0.2,0.3,-0.5,0.1,
0.3,1.6,0.5,0.3,-0.8,0.3,0.3,0.2,0.3,0.1,-0.2,0.3,
0.5,0.2,-0.4,0.9,-0.5,0.2,0.1,-0.3,0.2,-0.5,-0.3,-0.8,
-0.6,-0.3,-0.5,-0.4,-0.8,-0.6,-0.3,0.2,-0.2,-0.4,0.9,0.6,
-1.0,0.5,0.3,0.4,0.2,0.3,0.2,0.1,0.4,-0.3,0.2,1.1,
0.3,1.1,0.8,0.3,0.2,0.4,0.3,0.2,-1.6,-0.8,0.4,0.3,
0.8,0.5,0.3,0.2,0.4,-0.5,-1.0,0.3,-0.3,-0.6,-1.4,-0.8,
1.3,0.9,-1.2,-2.5,-2.6,-2.0,-1.0,-0.6,0.5,-0.3,-0.5,-0.8,
-0.9,-1.3,-1.9,-1.3,-0.9,-0.5,-1.0,-1.5,0.1,-0.4,-0.6,-1.0,
-0.8,-1.5,-0.6,-0.3,-0.2,-0.4,0.2,1.0,1.2,-0.5,-2.3,-1.8,
-2.3,-1.8,-1.9,-1.2,-0.6,-0.3,0.3,-0.5,-0.4,-0.8,-0.6,-0.9,
-1.4,-3.0,-1.4,-0.6,-0.8,-0.5,-0.3,-0.2,0.2,0.5,1.5,2.1,
1.8,1.5,1.8,1.8,1.4,1.8,0.6,-0.3,0.2,0.1,-0.6,-0.9,
-0.6,-0.9,-1.4,-0.5,0.3,-0.6,-0.8,-0.4,-0.7,-0.5,-0.3,-0.6,
-0.9,-0.6,-0.7,-0.4,-0.3,0.4,-0.2,-0.3,-0.5,-0.2,0.2,0.4,
0.5,-0.5,0.3,-0.3,-0.2,0.2,-0.4,-0.3,0.2,-0.2,-0.3,0.1];

// Linear trend line values at Jan 1985 and Jan 2021
const trendStart = [-0.29, -0.45, -0.13, -0.23, -0.02, 0.00, -0.41, 0.18, 0.22, 0.14];
const trendEnd   = [ 0.19,  0.38,  0.19,  0.25,  0.07, 0.03,  0.39, -0.23, -0.11, -0.09];

const seriesList = [spiKotaBharu, spiMachang, spiUluSekor, spiKualaKrai, spiDabong,
  spiKampungLaloh, spiPosGob, spiPosWias, spiBalaiPolisBertam, spiPosTehoi];

// ---------------- LAYOUT GEOMETRY (pixels) ----------------
const W = 923, H = 1591;
const geom = [
  {box:[84,444,64,252],  right:false, title:[253,25,21.5],  label:[23,18],  ylab:36,  dark:false},
  {box:[569,923,63,252], right:true,  title:[739,25,21.5],  label:[507,18], ylab:521, dark:false},
  {box:[84,444,386,574], right:false, title:[253,348,21.5], label:[23,348], ylab:36,  dark:false},
  {box:[569,923,386,570],right:true,  title:[739,348,21.5], label:[507,348],ylab:521, dark:false, softTicks:true},
  {box:[83,444,709,897], right:false, title:[254,670,21.5], label:[23,670], ylab:36,  dark:false},
  {box:[570,923,709,897],right:true,  title:[736,670,21.5], label:[507,670],ylab:521, dark:true},
  {box:[84,444,1031,1219],right:false,title:[254,993,21.5], label:[23,993], ylab:36,  dark:false},
  {box:[570,923,1031,1219],right:true,title:[739,993,21.5], label:[507,993],ylab:521, dark:false},
  {box:[84,444,1359,1542],right:false,title:[302,1322,25.5],label:[20,1316],ylab:36,  dark:true},
  {box:[570,923,1360,1544],right:true,title:[738,1317,25.5],label:[503,1316],ylab:521,dark:true}
];

const FONT = 'Liberation Sans, Arial, Helvetica, sans-serif';
const BLUE = '#4472C4', BLUE_EDGE = '#2F5597', RED = '#FF0000', RED_EDGE = '#C00000';
const GRID = '#d9d9d9';

const monthDates = [];
for (let y = startYear; y <= endYear; y++)
  for (let m = 1; m <= 12; m++) monthDates.push(y + '-' + String(m).padStart(2, '0') + '-16');
const gridYears = tickYears.concat([2021]);

const traces = [];
const layout = {
  width: W, height: H, margin: {l:0, r:0, t:0, b:0},
  paper_bgcolor: '#fff', plot_bgcolor: '#fff', showlegend: false,
  font: {family: FONT, color: '#262626'},
  annotations: [], shapes: []
};

seriesList.forEach((vals, i) => {
  const n = i + 1;
  const g = geom[i];
  const [x0, x1, y0, y1] = g.box;
  const xa = 'x' + (n === 1 ? '' : n), ya = 'y' + (n === 1 ? '' : n);
  traces.push({
    type: 'bar', x: monthDates.slice(0, vals.length), y: vals, xaxis: xa, yaxis: ya,
    width: 28 * 86400000,
    marker: {color: vals.map(v => v >= 0 ? BLUE : RED),
             line: {color: vals.map(v => v >= 0 ? BLUE_EDGE : RED_EDGE), width: 0.5}},
    hoverinfo: 'skip'
  });
  traces.push({
    type: 'scatter', mode: 'lines', x: [startYear + '-01-01', (endYear + 1) + '-01-01'],
    y: [trendStart[i], trendEnd[i]], xaxis: xa, yaxis: ya,
    line: {color: '#000', width: 2.5, dash: 'dot'}, hoverinfo: 'skip'
  });
  const xk = 'xaxis' + (n === 1 ? '' : n), yk = 'yaxis' + (n === 1 ? '' : n);
  layout[xk] = {
    domain: [x0 / W, Math.min(1, x1 / W)], anchor: ya, type: 'date',
    range: [startYear + '-01-01', g.right ? '2020-02-20' : (endYear + 1) + '-01-01'],
    tickmode: 'array', tickvals: gridYears.map(y => y + '-01-01'),
    ticktext: gridYears.map(y => tickYears.includes(y) ? String(y) : ''),
    tickangle: g.softTicks ? -40 : -45,
    tickfont: g.softTicks ? {family: FONT, size: 14, color: '#6b6b6b'} : {family: FONT, size: 16, color: '#262626'},
    ticks: 'outside', ticklen: g.softTicks ? 14 : 8, tickcolor: 'rgba(0,0,0,0)',
    showgrid: true, gridcolor: GRID, gridwidth: 1.5, zeroline: false,
    showline: true, linecolor: GRID, linewidth: 1.5, mirror: true, fixedrange: true
  };
  layout[yk] = {
    domain: [1 - y1 / H, 1 - y0 / H], anchor: xa, range: [-3, 3],
    tickmode: 'array', tickvals: yTickValues, ticktext: yTickLabels,
    tickfont: {family: FONT, size: 16, color: '#262626'},
    ticks: 'outside', ticklen: 12, tickcolor: 'rgba(0,0,0,0)',
    showgrid: true, gridcolor: GRID, gridwidth: 1.5, zeroline: false,
    showline: true, linecolor: GRID, linewidth: 1.5, mirror: !g.right, fixedrange: true
  };
  if (g.dark) {
    layout.shapes.push({type: 'line', xref: xa + ' domain', yref: ya + ' domain',
      x0: 0, x1: 0, y0: 0, y1: 1, line: {color: '#000', width: 2}});
  }
  layout.annotations.push({text: stationNames[i], x: g.title[0] / W, y: 1 - g.title[1] / H,
    xref: 'paper', yref: 'paper', xanchor: 'center', yanchor: 'middle', showarrow: false,
    font: {family: FONT, size: g.title[2], color: '#1a1a1a'}});
  layout.annotations.push({text: panelLetters[i], x: g.label[0] / W, y: 1 - g.label[1] / H,
    xref: 'paper', yref: 'paper', xanchor: 'center', yanchor: 'middle', showarrow: false,
    font: {family: FONT, size: 18, color: '#1a1a1a'}});
  layout.annotations.push({text: 'SPI-3', x: g.ylab / W, y: 1 - ((y0 + y1) / 2) / H,
    xref: 'paper', yref: 'paper', xanchor: 'center', yanchor: 'middle', showarrow: false,
    textangle: -90, font: {family: FONT, size: 21, color: '#1a1a1a'}});
});

Plotly.newPlot('chart', traces, layout, {staticPlot: true, displayModeBar: false});
</script>
</body></html>
